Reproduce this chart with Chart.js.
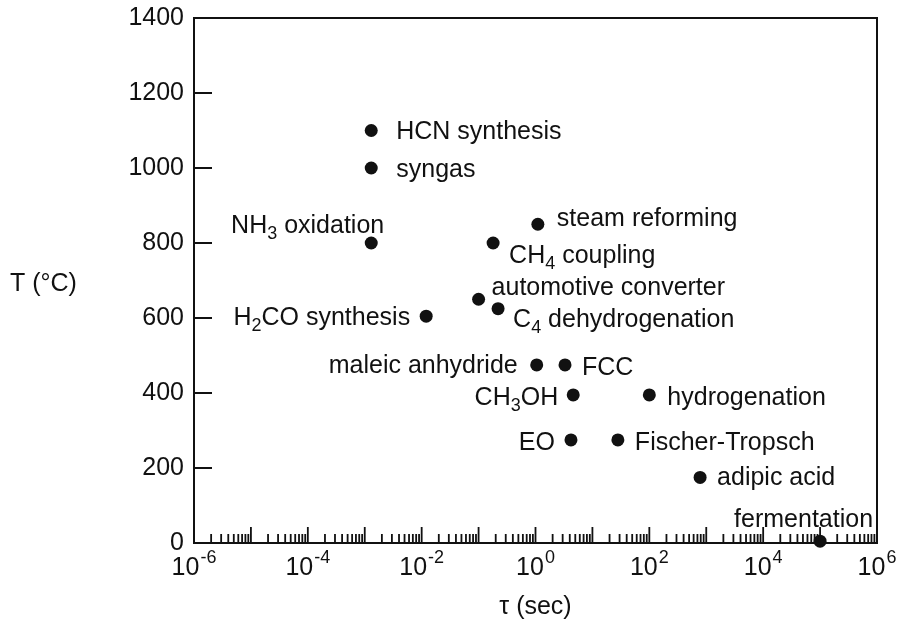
<!DOCTYPE html>
<html>
<head>
<meta charset="utf-8">
<script src="https://cdn.jsdelivr.net/npm/chart.js@4.4.0/dist/chart.umd.min.js"></script>
<style>
  html, body { margin: 0; padding: 0; background: #fff; }
  #wrap { width: 901px; height: 626px; }
</style>
</head>
<body>
<div id="wrap"><canvas id="myChart" width="901" height="626"></canvas></div>
<script>
// reactor processes: residence time tau (s) against temperature T (°C)
// "_n" in a name marks a subscript digit
const processes = [
    'HCN synthesis', 'syngas', 'NH_3 oxidation', 'H_2CO synthesis',
    'steam reforming', 'CH_4 coupling', 'automotive converter', 'C_4 dehydrogenation',
    'maleic anhydride', 'FCC', 'CH_3OH', 'hydrogenation',
    'EO', 'Fischer-Tropsch', 'adipic acid', 'fermentation'
];
const tau = [0.0013, 0.0013, 0.0013, 0.012, 1.1, 0.18, 0.1, 0.22, 1.05, 3.3, 4.6, 100, 4.2, 28, 780, 100000];
const temp = [1100, 1000, 800, 605, 850, 800, 650, 625, 475, 475, 395, 395, 275, 275, 175, 5];

const tempTicks = [0, 200, 400, 600, 800, 1000, 1200, 1400];
const tauExponents = [-6, -4, -2, 0, 2, 4, 6];

// where each name sits next to its dot: [anchor, dx, dy to baseline]
const labelSpots = [
    ['start', 25, 8], ['start', 25, 9], ['end', 13, -10], ['end', -16, 9],
    ['start', 19, 2], ['start', 16, 20], ['start', 13, -4], ['start', 15, 18],
    ['end', -19, 8], ['start', 17, 10], ['end', -15, 10], ['start', 18, 10],
    ['end', -16, 10], ['start', 17, 10], ['start', 17, 8], ['end', 53, -14]
];

const FAMILY = "'Liberation Sans', Arial, sans-serif";
const mainFont = '25px ' + FAMILY;
const smallFont = '18px ' + FAMILY;
const ink = '#111';

const drawRich = (ctx, text, x, y, align) => {
    const parts = text.split(/_(\d)/);
    let w = 0;
    parts.forEach((p, i) => {
        ctx.font = i % 2 ? smallFont : mainFont;
        w += ctx.measureText(p).width;
    });
    let cx = align === 'end' ? x - w : x;
    parts.forEach((p, i) => {
        ctx.font = i % 2 ? smallFont : mainFont;
        ctx.fillText(p, cx, i % 2 ? y + 6 : y);
        cx += ctx.measureText(p).width;
    });
};

const framePlugin = {
    id: 'frame',
    afterDatasetsDraw(chart) {
        const { ctx, chartArea: a, scales } = chart;
        const xs = scales.x, ys = scales.y;
        ctx.save();
        ctx.strokeStyle = ink;
        ctx.fillStyle = ink;
        ctx.lineWidth = 2;
        ctx.strokeRect(a.left, a.top, a.right - a.left, a.bottom - a.top);

        // inward ticks on T axis
        ctx.beginPath();
        tempTicks.forEach(t => {
            const py = ys.getPixelForValue(t);
            ctx.moveTo(a.left, py);
            ctx.lineTo(a.left + 18, py);
        });
        ctx.stroke();

        // inward decade and minor ticks on tau axis
        ctx.lineWidth = 1.8;
        ctx.beginPath();
        for (let e = -6; e < 6; e++) {
            for (let m = 1; m <= 9; m++) {
                const px = xs.getPixelForValue(m * Math.pow(10, e));
                ctx.moveTo(px, a.bottom);
                ctx.lineTo(px, a.bottom - (m === 1 ? 16 : 9));
            }
        }
        ctx.stroke();

        // tau tick labels, 10 with a superscript exponent
        ctx.textBaseline = 'alphabetic';
        ctx.textAlign = 'left';
        tauExponents.forEach(e => {
            const px = xs.getPixelForValue(Math.pow(10, e));
            const sup = String(e);
            ctx.font = mainFont;
            const wb = ctx.measureText('10').width;
            ctx.font = smallFont;
            const ws = ctx.measureText(sup).width + 1;
            const x0 = px - (wb + ws) / 2;
            ctx.font = mainFont;
            ctx.fillText('10', x0, a.bottom + 32);
            ctx.font = smallFont;
            ctx.fillText(sup, x0 + wb + 1, a.bottom + 20);
        });

        // axis titles
        ctx.font = mainFont;
        ctx.textAlign = 'center';
        ctx.fillText('\u03c4 (sec)', (a.left + a.right) / 2, a.bottom + 71);
        ctx.textAlign = 'left';
        ctx.fillText('T (\u00b0C)', 10, 291);

        // process names beside their dots
        const meta = chart.getDatasetMeta(0);
        meta.data.forEach((pt, i) => {
            const [anchor, dx, dy] = labelSpots[i];
            drawRich(ctx, processes[i], pt.x + dx, pt.y + dy, anchor);
        });
        ctx.restore();
    }
};

const ctx = document.getElementById('myChart').getContext('2d');
new Chart(ctx, {
    type: 'scatter',
    data: {
        datasets: [{
            data: tau.map((t, i) => ({ x: t, y: temp[i] })),
            backgroundColor: ink,
            borderWidth: 0,
            pointRadius: 6.5,
            clip: false
        }]
    },
    options: {
        responsive: false,
        animation: false,
        layout: { padding: { top: 18, right: 24, left: 0, bottom: 0 } },
        plugins: { legend: { display: false }, tooltip: { enabled: false } },
        scales: {
            x: {
                type: 'logarithmic',
                min: 1e-6,
                max: 1e6,
                grid: { display: false },
                border: { display: false },
                ticks: { display: false },
                afterFit: s => { s.height = 83; }
            },
            y: {
                min: 0,
                max: 1400,
                grid: { display: false, drawTicks: false },
                border: { display: false },
                ticks: {
                    stepSize: 200,
                    padding: 10,
                    color: ink,
                    font: { family: FAMILY, size: 25 },
                    callback: v => String(v)
                },
                afterFit: s => {
                    s.width = 194;
                    s.paddingTop = 0;
                    s.paddingBottom = 0;
                }
            }
        }
    },
    plugins: [framePlugin]
});
</script>
</body>
</html>
